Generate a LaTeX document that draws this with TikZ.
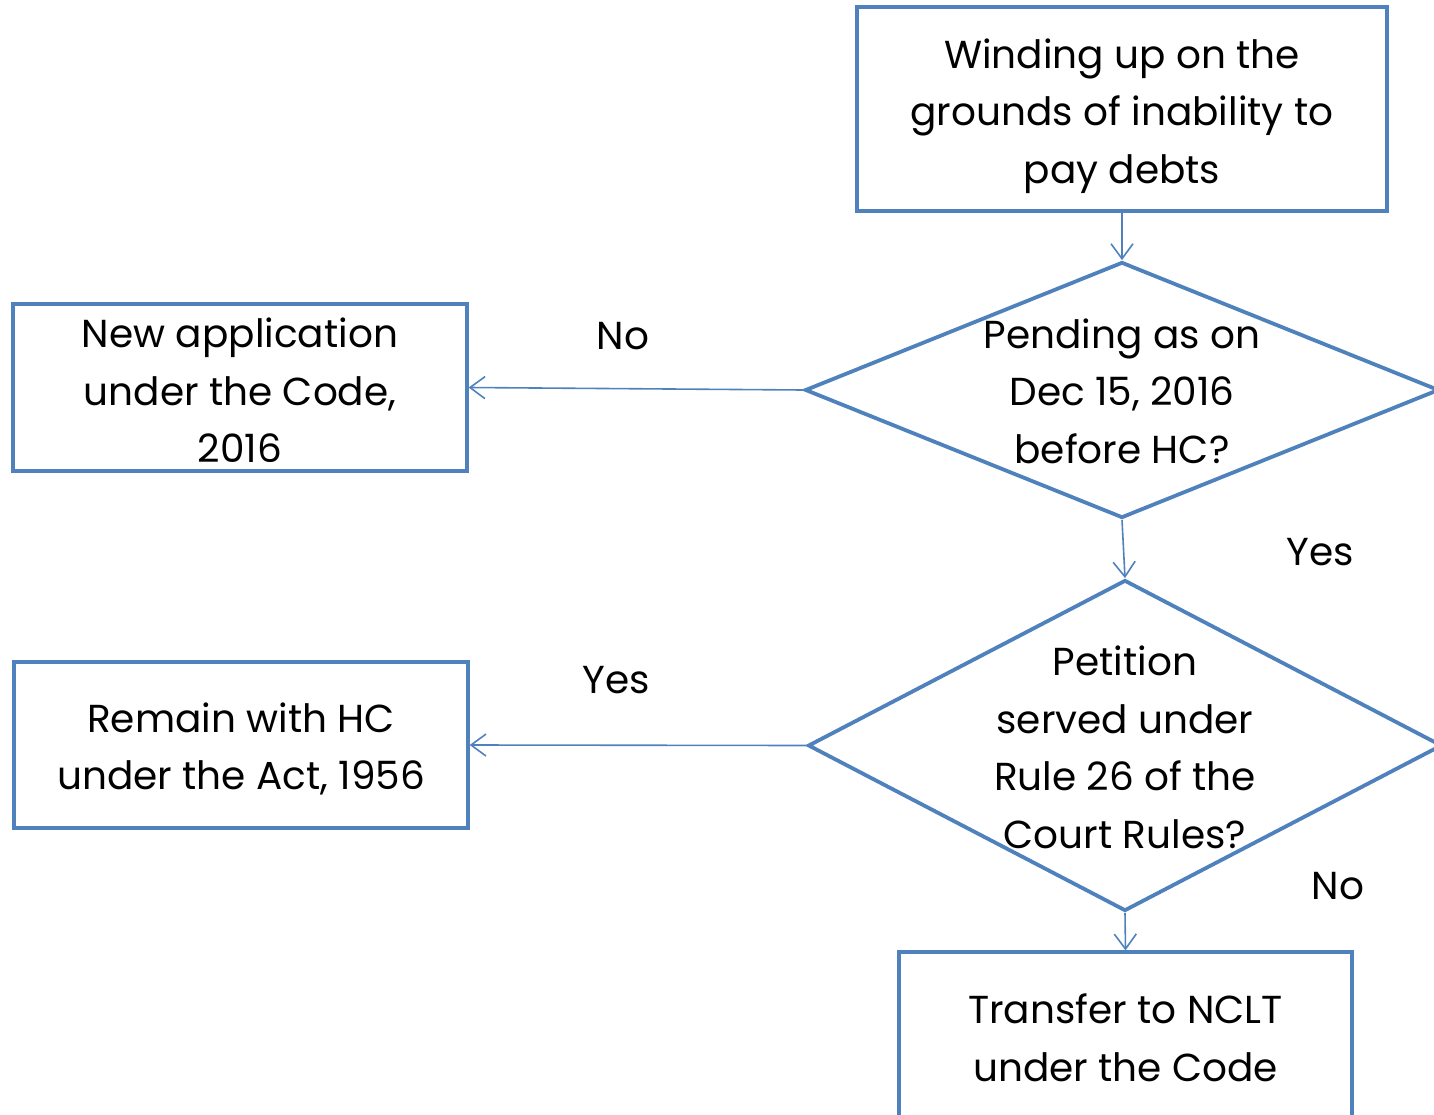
\documentclass[tikz,border=0pt]{standalone}
\usepackage{fontspec}
\setmainfont{Poppins}
\usetikzlibrary{shapes.geometric,arrows.meta}
\definecolor{flowblue}{HTML}{4F81BD}
\begin{document}
\begin{tikzpicture}[x=1pt,y=-1pt,
  every node/.style={font=\fontsize{39}{57.5}\selectfont, text=black},
  box/.style={draw=flowblue, line width=3.3pt, rectangle, inner sep=0pt},
  decision/.style={draw=flowblue, line width=3.8pt, diamond, inner sep=0pt},
  caption/.style={align=center, inner sep=0pt},
  link/.style={draw=flowblue, line width=1.6pt, -{Straight Barb[length=15pt,width=22pt,line width=1.6pt]}},
  answer/.style={inner sep=0pt}
]
\useasboundingbox (0,0) rectangle (1434,1115);
\clip (0,0) rectangle (1434,1115);

% boxes
\node[box, minimum width=530pt, minimum height=204pt] (start) at (1122,109) {};
\node[caption] at ([yshift=-7pt]start.center) {Winding up on the\\grounds of inability to\\pay debts};
\node[box, minimum width=454pt, minimum height=167pt] (newapp) at (240,387.5) {};
\node[caption] at ([yshift=-3pt]newapp.center) {New application\\under the Code,\\2016};
\node[box, minimum width=454pt, minimum height=166pt] (remain) at (241,745) {};
\node[caption] at ([yshift=-4pt]remain.center) {Remain with HC\\under the Act, 1956};
\node[box, minimum width=453pt, minimum height=174pt] (nclt) at (1125.5,1039) {};
\node[caption] at ([yshift=1pt]nclt.center) {Transfer to NCLT\\under the Code};

% decisions
\node[decision, minimum width=634pt, minimum height=256pt] (pending) at (1122,390) {};
\node[caption] at ([yshift=-1pt]pending.center) {Pending as on\\Dec 15, 2016\\before HC?};
\node[decision, minimum width=634pt, minimum height=331pt] (served) at (1125,745.5) {};
\node[caption] at ([yshift=-2pt]served.center) {Petition\\served under\\Rule 26 of the\\Court Rules?};

% connectors
\draw[link] (start.south) -- (pending.north);
\draw[link] (pending.west) -- (newapp.east);
\draw[link] (pending.south) -- (served.north);
\draw[link] (served.west) -- (remain.east);
\draw[link] (served.south) -- (nclt.north);

% branch labels
\node[answer] (no1) at (623,336) {No};
\node[answer] (yes1) at (1320,552) {Yes};
\node[answer] (yes2) at (616,680) {Yes};
\node[answer] (no2) at (1338,886) {No};
\end{tikzpicture}
\end{document}
